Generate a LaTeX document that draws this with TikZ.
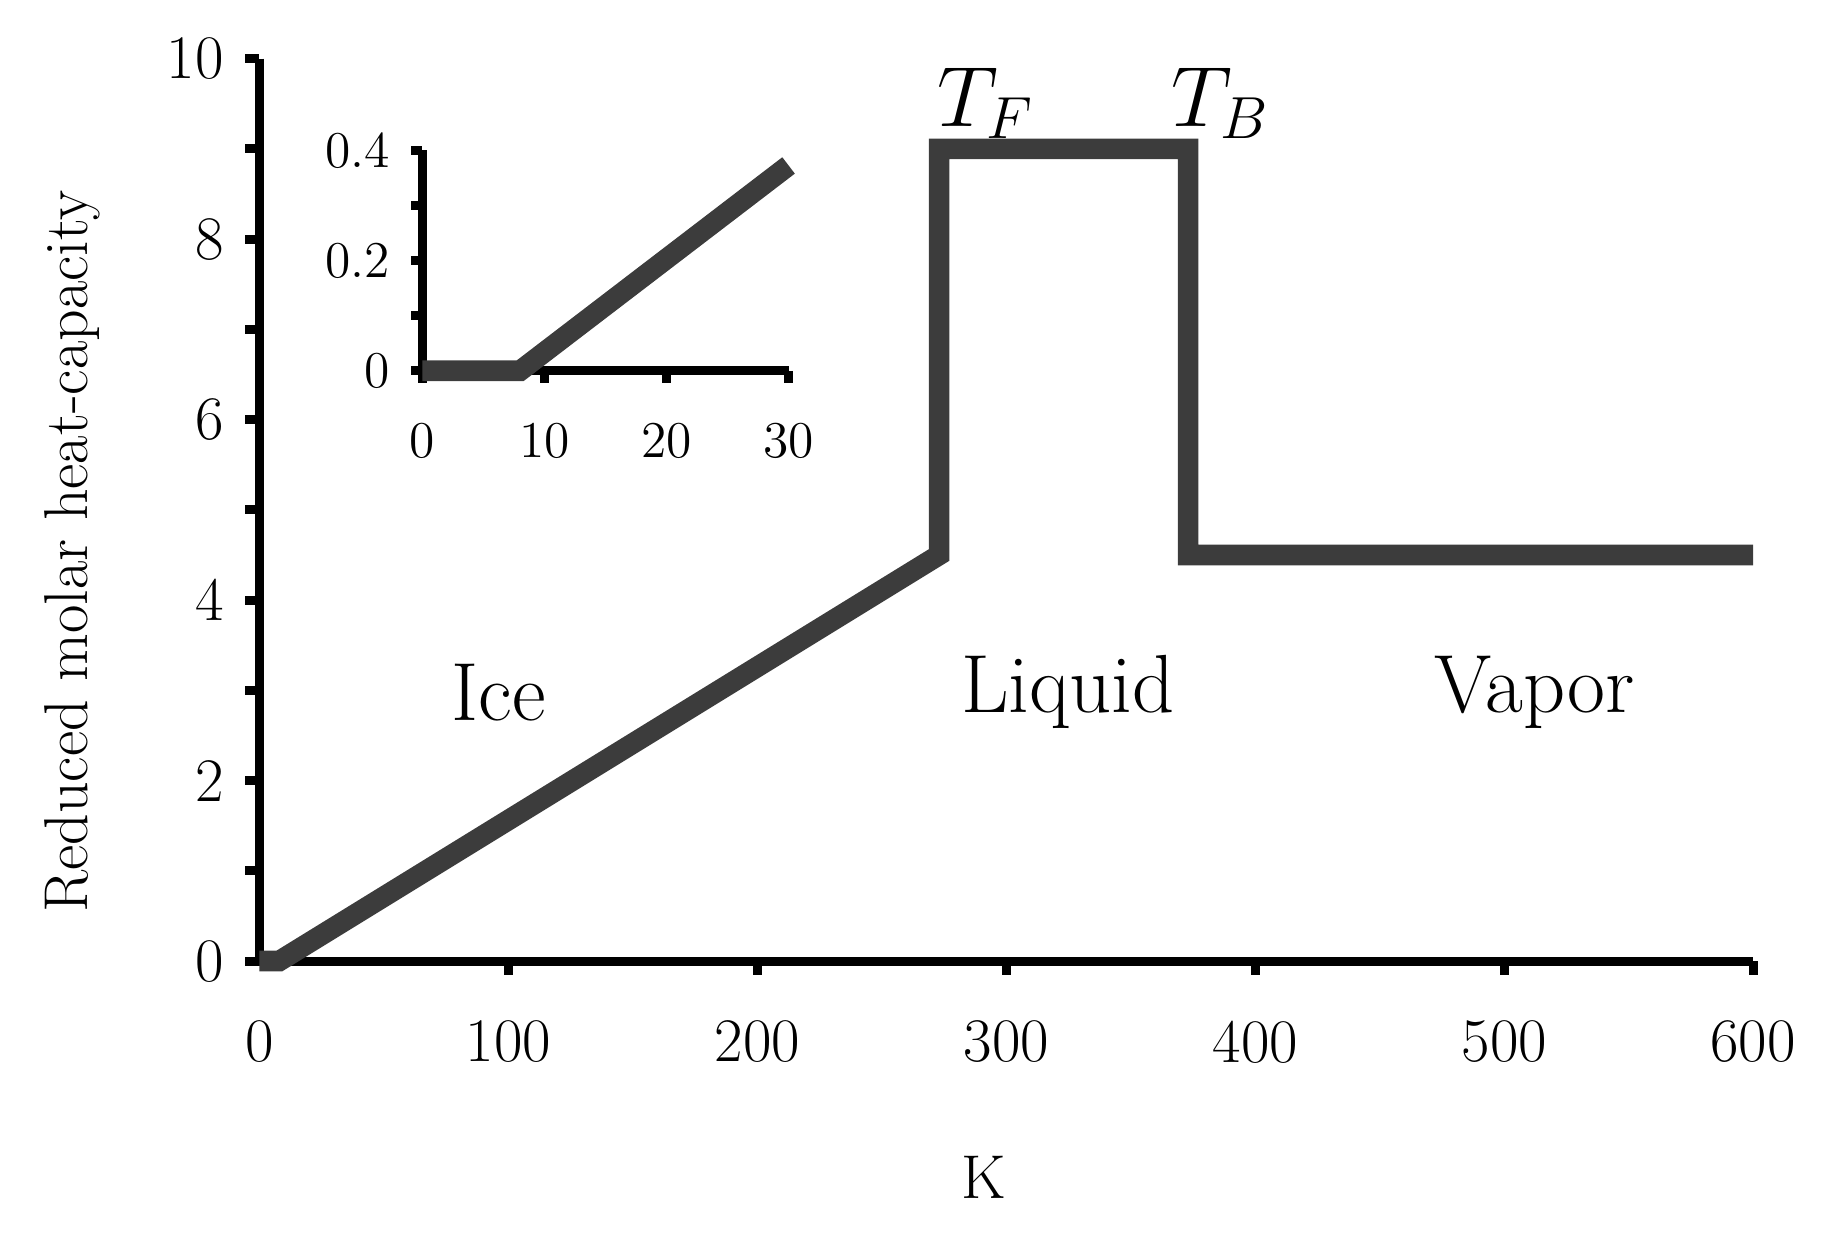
\documentclass[tikz,border=0pt]{standalone}
\usepackage{fontspec}
\begin{document}
\begin{tikzpicture}[x=0.01cm,y=-0.01cm,
  ax/.style={line width=2.2pt,black},
  curve/.style={line width=5pt,color={rgb,255:red,60;green,60;blue,60},line join=miter},
  tl/.style={font=\fontsize{15}{15}\selectfont},
  il/.style={font=\fontsize{12.5}{12.5}\selectfont},
  big/.style={font=\fontsize{20}{20}\selectfont}]
\useasboundingbox (0,0) rectangle (1568,1058);
% main axes
\draw[ax] (221,50) -- (221,819) -- (1494,819);
\foreach \i in {0,...,10} \draw[ax] (221,{819-76.9*\i}) -- (209,{819-76.9*\i});
\foreach \i in {0,2,...,10} \node[tl,anchor=east] at (203,{819-76.9*\i}) {\i};
\foreach \i in {1,...,6} {\draw[ax] ({221+212.17*\i},819) -- ({221+212.17*\i},831);
  \node[tl] at ({221+212.17*\i},888) {\i00};}
\node[tl] at (221,888) {0};
\draw[curve] (221,819) -- ({221+8*2.122},819) -- ({221+273*2.122},{819-4.5*76.9}) -- ({221+273*2.122},{819-9*76.9}) -- ({221+373*2.122},{819-9*76.9}) -- ({221+373*2.122},{819-4.5*76.9}) -- (1494,{819-4.5*76.9});
% inset
\draw[ax] (360,128) -- (360,316) -- (672,316);
\foreach \i in {0,...,4} \draw[ax] (360,{316-47*\i}) -- (350,{316-47*\i});
\node[il,anchor=east] at (345,316) {0};
\node[il,anchor=east] at (345,222) {0.2};
\node[il,anchor=east] at (345,128) {0.4};
\foreach \i in {0,1,2,3} \draw[ax] ({360+104*\i},316) -- ({360+104*\i},326);
\node[il] at (360,376) {0};
\node[il] at (464,376) {10};
\node[il] at (568,376) {20};
\node[il] at (672,376) {30};
\draw[curve] (360,316) -- ({360+8*10.4},316) -- (672,141);
% labels
\node[big] (tf) at (840,88) {$T_F$};
\node[big] (tb) at (1040,88) {$T_B$};
\node[big] (ice) at (425,590) {Ice};
\node[big] (liq) at (910,590) {Liquid};
\node[big] (vap) at (1308,590) {Vapor};
\node[tl] (k) at (838,1003) {K};
\node[tl,rotate=90] (yl) at (62,470) {Reduced molar heat-capacity};
\end{tikzpicture}
\end{document}
